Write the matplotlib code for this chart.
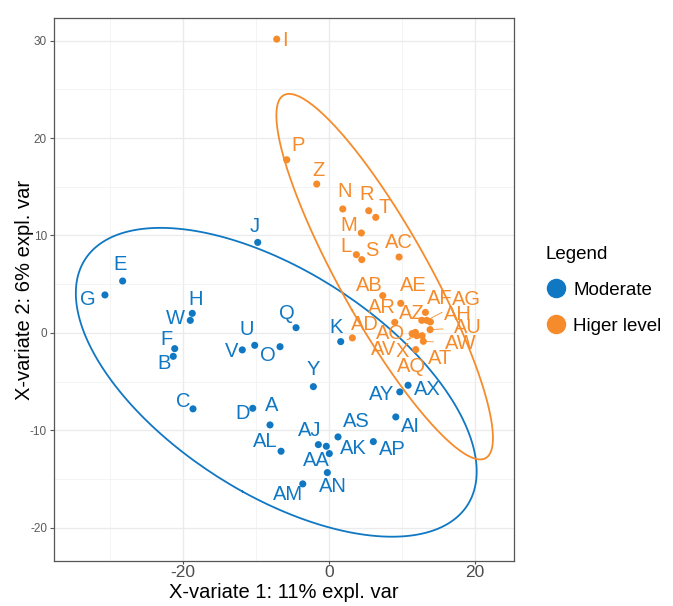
import numpy as np
import matplotlib
matplotlib.use("Agg")
import matplotlib.pyplot as plt
from matplotlib.lines import Line2D

plt.rcParams['font.family'] = ['Liberation Sans', 'DejaVu Sans']

# sample names, scores on the two X-variates, and group
mod_names = ["A", "B", "C", "D", "E", "F", "G", "H", "J", "K", "O", "Q", "U", "V",
             "W", "Y", "AA", "AI", "AJ", "AK", "AL", "AM", "AN", "AP", "AS", "AX", "AY"]
mod_x = [-8.06, -21.29, -18.59, -10.42, -28.21, -21.09, -30.63, -18.69, -9.74, 1.61,
         -6.69, -4.50, -10.15, -11.85, -18.96, -2.13, 0.05, 9.14, -1.45, -0.36,
         -6.55, -3.58, -0.22, 6.07, 1.24, 10.82, 9.69]
mod_y = [-9.44, -2.40, -7.79, -7.73, 5.33, -1.61, 3.90, 2.01, 9.29, -0.89,
         -1.41, 0.54, -1.27, -1.74, 1.29, -5.51, -12.38, -8.62, -11.46, -11.63,
         -12.14, -15.49, -14.33, -11.15, -10.67, -5.37, -6.05]

high_names = ["I", "L", "M", "N", "P", "R", "S", "T", "X", "Z", "AB", "AC", "AD",
              "AE", "AF", "AG", "AH", "AO", "AQ", "AR", "AT", "AU", "AV", "AW", "AZ"]
high_x = [-7.14, 3.75, 4.43, 1.89, -5.77, 5.44, 4.49, 6.40, 11.37, -1.67, 7.36, 9.59,
          3.20, 9.82, 13.19, 13.38, 13.87, 11.82, 11.87, 9.00, 12.74, 13.83, 12.01,
          12.91, 12.69]
high_y = [30.15, 8.03, 10.26, 12.72, 17.77, 12.54, 7.52, 11.86, -0.07, 15.28, 3.83,
          7.79, -0.51, 3.04, 2.11, 1.29, 1.13, 0.06, -1.71, 1.09, -0.28, 0.34, -0.28,
          -0.86, 1.29]

group_labels = ["Moderate", "Higer level"]

# label placement (offset from the point, in pixels), repel-style
offsets = {
    "A": (2, 19), "B": (-9, -7), "C": (-10, 7), "D": (-10, -5), "E": (-3, 17),
    "F": (-8, 9), "G": (-17, -5), "H": (3, 14), "J": (-3, 16), "K": (-5, 14),
    "O": (-12, -9), "Q": (-9, 14), "U": (-8, 16), "V": (-11, -2), "W": (-15, 2),
    "Y": (0, 17), "AA": (-13, -7), "AI": (15, -10), "AJ": (-9, 14), "AK": (27, -2),
    "AL": (-16, 10), "AM": (-15, -11), "AN": (6, -14), "AP": (19, -8), "AS": (18, 15),
    "AX": (19, -4), "AY": (-18, -3),
    "I": (8, -1), "L": (-10, 8), "M": (-13, 7), "N": (2, 17), "P": (11, 14),
    "R": (-2, 16), "S": (10, 9), "T": (9, 10), "X": (-10, -18), "Z": (2, 14),
    "AB": (-13, 10), "AC": (0, 15), "AD": (13, 13), "AE": (13, 18), "AF": (14, 14),
    "AG": (40, 21), "AH": (28, 7), "AO": (-25, -1), "AQ": (-4, -17), "AR": (-13, 15),
    "AT": (18, -23), "AU": (38, 2), "AV": (-33, -14), "AW": (37, -2), "AZ": (-10, 7),
}
segments = {"AK", "AG", "AH", "AU", "AW", "AT", "AV", "X", "AF"}

blue = "#1077c3"
orange = "#f68b2b"


def conf_ellipse(x, y, level_r=2.4477, n=200):
    # 95% confidence ellipse (chi-square, 2 df) from the sample covariance
    pts = np.column_stack([x, y])
    c = pts.mean(axis=0)
    cov = np.cov(pts, rowvar=False)
    vals, vecs = np.linalg.eigh(cov)
    t = np.linspace(0, 2 * np.pi, n)
    circ = np.column_stack([np.cos(t), np.sin(t)]) * np.sqrt(vals) * level_r
    return c + circ @ vecs.T


fig = plt.figure(figsize=(6.73, 6.06), dpi=100)
ax = fig.add_axes([0.0802, 0.0743, 0.6835, 0.8957])

for xs, ys, names, col in [(mod_x, mod_y, mod_names, blue),
                           (high_x, high_y, high_names, orange)]:
    ell = conf_ellipse(xs, ys)
    ax.plot(ell[:, 0], ell[:, 1], color=col, lw=1.3, zorder=2)
    ax.scatter(xs, ys, s=26, color=col, edgecolors='none', zorder=3)
    for nm, px, py in zip(names, xs, ys):
        dx, dy = offsets.get(nm, (0, 14))
        arrow = None
        if nm in segments:
            arrow = dict(arrowstyle='-', color=col, lw=0.6, shrinkA=6, shrinkB=2)
        ax.annotate(nm, (px, py), xytext=(dx, dy), textcoords='offset pixels',
                    ha='center', va='center', color=col, fontsize=14.5,
                    arrowprops=arrow, zorder=4)

ax.set_xlim(-37.6, 25.3)
ax.set_ylim(-23.4, 32.3)
ax.set_xticks([-20, 0, 20])
ax.set_xticks([-30, -10, 10], minor=True)
ax.set_yticks([-20, -10, 0, 10, 20, 30])
ax.set_yticks([-15, -5, 5, 15, 25], minor=True)
ax.set_xticklabels(["-20", "0", "20"])
ax.set_yticklabels(["-20", "-10", "0", "10", "20", "30"])
ax.grid(which='major', color='#ebebeb', lw=1.0)
ax.grid(which='minor', color='#f2f2f2', lw=0.6)
ax.set_axisbelow(True)
ax.tick_params(axis='x', which='major', length=2, pad=1, labelsize=12.5, colors='#4d4d4d')
ax.tick_params(axis='y', which='major', length=3, pad=2, labelsize=8.5, colors='#5a5a5a')
ax.tick_params(which='minor', length=0)
for s in ax.spines.values():
    s.set_color('#555555')
    s.set_linewidth(0.9)

ax.set_xlabel("X-variate 1: 11% expl. var", fontsize=14.5, labelpad=2)
ax.set_ylabel("X-variate 2: 6% expl. var", fontsize=14.5, labelpad=-3)

handles = [Line2D([], [], marker='o', ls='', color=blue, markersize=13),
           Line2D([], [], marker='o', ls='', color=orange, markersize=13)]
leg = fig.legend(handles, group_labels, title="Legend", loc='upper left',
                 bbox_to_anchor=(0.785, 0.622), frameon=False, fontsize=13.5,
                 title_fontsize=13.5, handletextpad=0.3, labelspacing=1.0,
                 handlelength=1.2)
leg._legend_box.align = "left"

fig.savefig("out.png", dpi=100)
